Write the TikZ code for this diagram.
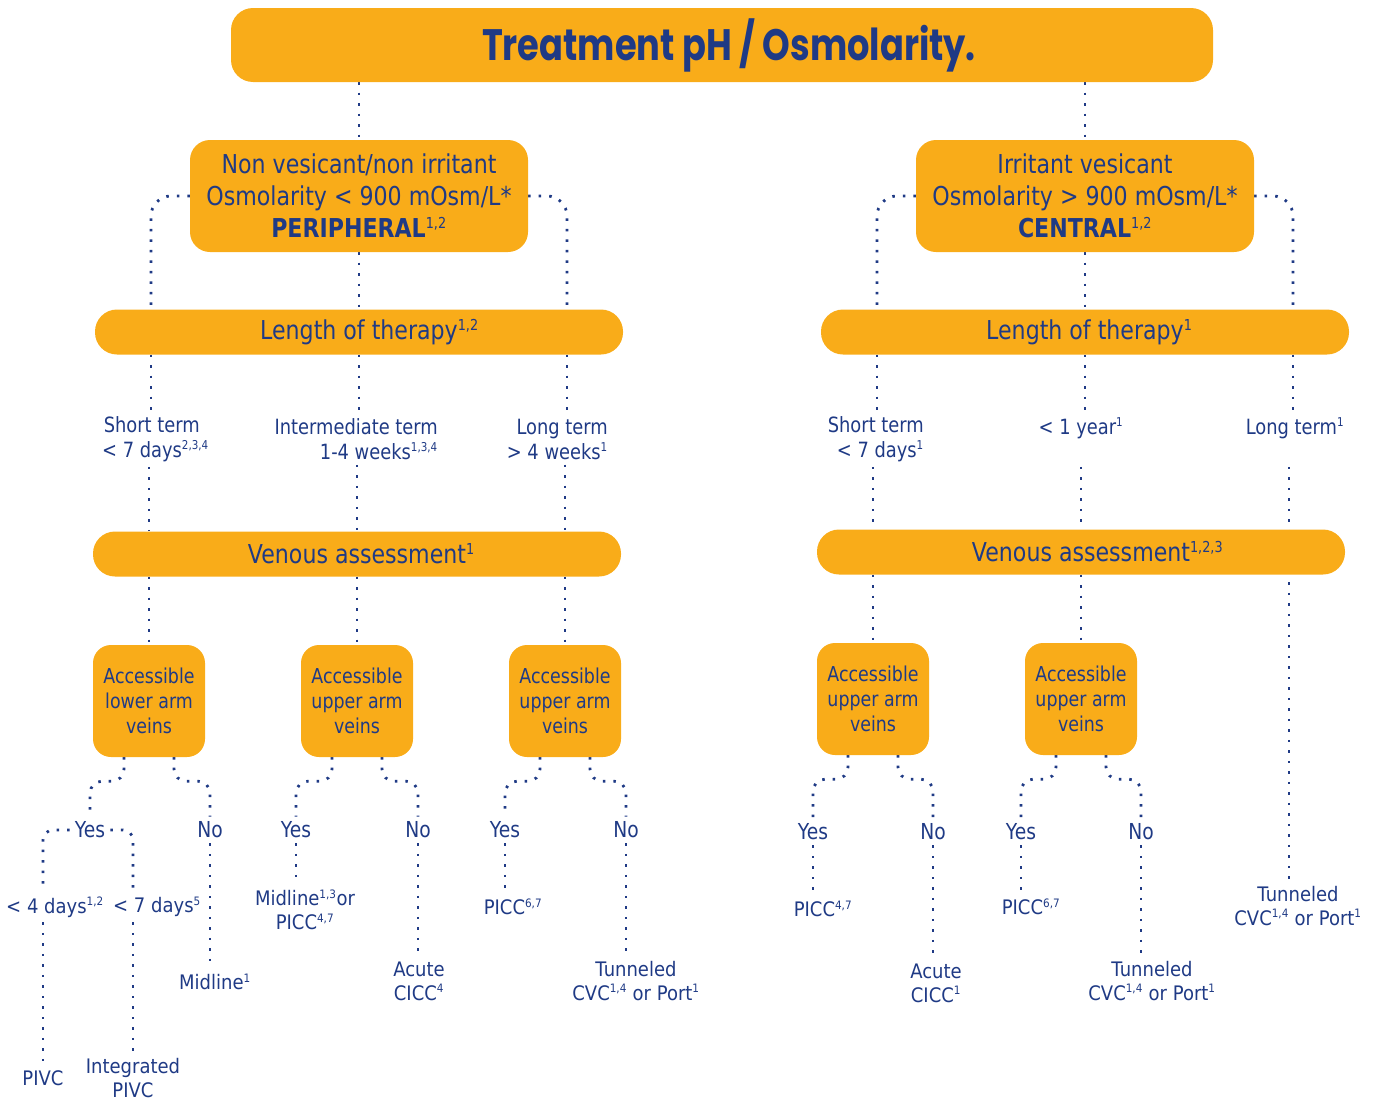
\documentclass[tikz,border=0pt]{standalone}
\usepackage{fontspec}
\setmainfont{DejaVu Sans}
\newfontfamily\condf[FakeStretch=0.85]{DejaVu Sans}
\newfontfamily\bodyf[FakeStretch=0.9]{DejaVu Sans}
\newfontfamily\titlef[FakeStretch=0.8]{Poppins}
\usetikzlibrary{calc}
\renewcommand\defaultscriptratio{.58}
\definecolor{orng}{HTML}{F9AC19}
\definecolor{navy}{HTML}{1F3A85}
\newcommand\sups[1]{\textsuperscript{\mdseries #1}}
\newcommand\hsup[1]{\rlap{\textsuperscript{\mdseries #1}}}
\pgfdeclarelayer{bg}\pgfsetlayers{bg,main}
\tikzset{
 box/.style={fill=orng, rounded corners=20pt, text=navy, align=center, inner sep=0pt},
 bar/.style={fill=orng, rounded corners=22pt, minimum width=528pt, minimum height=45pt, text=navy, font=\condf\fontsize{26}{30}\selectfont, inner sep=0pt},
 acc/.style={fill=orng, rounded corners=18pt, minimum width=112pt, minimum height=112pt, text=navy, align=center, font=\condf\fontsize{20.5}{25}\selectfont, inner sep=0pt},
 lbl/.style={text=navy, font=\condf\fontsize{21}{25}\selectfont, inner sep=5pt},
 blbl/.style={text=navy, font=\bodyf\fontsize{20}{24}\selectfont, inner sep=5pt, align=center},
 yn/.style={text=navy, font=\condf\fontsize{22}{24}\selectfont, inner sep=5pt},
 dotl/.style={draw=navy, line width=2.8pt, line cap=butt, dash pattern=on 2.5pt off 8pt},
}
\begin{document}
\begin{tikzpicture}[x=1pt,y=-1pt]
\useasboundingbox (0,0) rectangle (1378,1100);
% columns
\coordinate (u1) at (151,0); \coordinate (u2) at (359,0); \coordinate (u3) at (567,0);
\coordinate (u4) at (877,0); \coordinate (u5) at (1085,0); \coordinate (u6) at (1293,0);
\coordinate (l1) at (149,0); \coordinate (l2) at (357,0); \coordinate (l3) at (565,0);
\coordinate (l4) at (873,0); \coordinate (l5) at (1081,0); \coordinate (l6) at (1289,0);

% main boxes
\node[box, rounded corners=22pt, minimum width=982pt, minimum height=74pt] (title) at (722,45)
  {\titlef\bfseries\fontsize{44}{48}\selectfont\hspace*{14pt}Treatment pH / Osmolarity.};
\node[box, minimum width=338pt, minimum height=112pt, font=\condf\fontsize{26}{32}\selectfont] (nv) at (359,196)
  {Non vesicant/non irritant\\Osmolarity < 900 mOsm/L*\\\textbf{PERIPHERAL}\sups{1,2}};
\node[box, minimum width=338pt, minimum height=112pt, font=\condf\fontsize{26}{32}\selectfont] (ir) at (1085,196)
  {Irritant vesicant\\Osmolarity > 900 mOsm/L*\\\textbf{CENTRAL}\sups{1,2}};
\node[bar] (lenL) at (359,332) {Length of therapy\hsup{1,2}};
\node[bar] (lenR) at (1085,332) {Length of therapy\hsup{1}};

% term labels
\node[lbl, align=right, anchor=east] (stL) at (214,439) {Short term\hspace*{9pt}\\< 7 days\sups{2,3,4}};
\node[lbl, align=right, anchor=east] (imL) at (443,439) {Intermediate term\\1-4 weeks\sups{1,3,4}};
\node[lbl, align=right, anchor=east] (ltL) at (613,439) {Long term\\> 4 weeks\sups{1}};
\node[lbl, align=right, anchor=east] (stR) at (929,439) {Short term\\< 7 days\sups{1}};
\node[lbl] (yrR) at (1081,428) {< 1 year\sups{1}};
\node[lbl] (ltR) at (1295,428) {Long term\sups{1}};

\node[bar] (venL) at (357,554) {Venous assessment\hsup{1}};
\node[bar] (venR) at (1081,552) {Venous assessment\hsup{1,2,3}};

% accessible boxes
\node[acc] (a1) at (149,701) {Accessible\\lower arm\\veins};
\node[acc] (a2) at (357,701) {Accessible\\upper arm\\veins};
\node[acc] (a3) at (565,701) {Accessible\\upper arm\\veins};
\node[acc] (a4) at (873,699) {Accessible\\upper arm\\veins};
\node[acc] (a5) at (1081,699) {Accessible\\upper arm\\veins};

% bottom labels
\node[yn] (yes1) at (90,830) {Yes};
\node[yn] (no1) at (210,830) {No};
\node[blbl] (d4) at (55,907) {< 4 days\sups{1,2}};
\node[blbl] (d7) at (157,907) {< 7 days\sups{5}};
\node[blbl] (pivc) at (43,1078) {PIVC};
\node[blbl] (ipivc) at (133,1078) {Integrated\\PIVC};
\node[blbl] (mid1) at (215,982) {Midline\sups{1}};
\node[yn] (yes2) at (296,830) {Yes};
\node[yn] (no2) at (418,830) {No};
\node[blbl] (mp) at (305,910) {Midline\sups{1,3}or\\PICC\sups{4,7}};
\node[blbl] (ac2) at (419,981) {Acute\\CICC\sups{4}};
\node[yn] (yes3) at (505,830) {Yes};
\node[yn] (no3) at (626,830) {No};
\node[blbl] (pc3) at (513,907) {PICC\sups{6,7}};
\node[blbl] (tn3) at (636,981) {Tunneled\\CVC\sups{1,4} or Port\sups{1}};
\node[yn] (yes4) at (813,832) {Yes};
\node[yn] (no4) at (933,832) {No};
\node[blbl] (pc4) at (823,909) {PICC\sups{4,7}};
\node[blbl] (ac4) at (936,983) {Acute\\CICC\sups{1}};
\node[yn] (yes5) at (1021,832) {Yes};
\node[yn] (no5) at (1141,832) {No};
\node[blbl] (pc5) at (1031,907) {PICC\sups{6,7}};
\node[blbl] (tn5) at (1152,981) {Tunneled\\CVC\sups{1,4} or Port\sups{1}};
\node[blbl] (tcR) at (1298,906) {Tunneled\\CVC\sups{1,4} or Port\sups{1}};

\begin{pgfonlayer}{bg}
\draw[dotl] (nv.north |- title.south) -- (nv.north);
\draw[dotl] (ir.north |- title.south) -- (ir.north);
\draw[dotl] (nv.south) -- (lenL.north);
\draw[dotl] (ir.south) -- (lenR.north);
\draw[dotl, rounded corners=20pt] (nv.west) -| (lenL.north -| u1);
\draw[dotl, rounded corners=20pt] (nv.east) -| (lenL.north -| u3);
\draw[dotl, rounded corners=20pt] (ir.west) -| (lenR.north -| u4);
\draw[dotl, rounded corners=20pt] (ir.east) -| (lenR.north -| u6);
% length -> terms
\draw[dotl] (lenL.south -| u1) -- (stL.north -| u1);
\draw[dotl] (lenL.south -| u2) -- (imL.north -| u2);
\draw[dotl] (lenL.south -| u3) -- (ltL.north -| u3);
\draw[dotl] (lenR.south -| u4) -- (stR.north -| u4);
\draw[dotl] (lenR.south -| u5) -- (yrR.north -| u5);
\draw[dotl] (lenR.south -| u6) -- (ltR.north -| u6);
% terms -> venous
\draw[dotl] (stL.south -| l1) -- (venL.north -| l1);
\draw[dotl] (imL.south -| l2) -- (venL.north -| l2);
\draw[dotl] (ltL.south -| l3) -- (venL.north -| l3);
\draw[dotl] (stR.south -| l4) -- (venR.north -| l4);
\draw[dotl] (stR.south -| l5) -- (venR.north -| l5);
\draw[dotl] (stR.south -| l6) -- (tcR.north -| l6);
% venous -> boxes
\draw[dotl] (a1.north |- venL.south) -- (a1.north);
\draw[dotl] (a2.north |- venL.south) -- (a2.north);
\draw[dotl] (a3.north |- venL.south) -- (a3.north);
\draw[dotl] (a4.north |- venR.south) -- (a4.north);
\draw[dotl] (a5.north |- venR.south) -- (a5.north);
% boxes -> yes/no
\foreach \b/\y/\n in {a1/yes1/no1, a2/yes2/no2, a3/yes3/no3, a4/yes4/no4, a5/yes5/no5}{
  \draw[dotl, rounded corners=12pt] ($(\b.south)+(-25,0)$) -- ++(0,24) -| (\y.north);
  \draw[dotl, rounded corners=12pt] ($(\b.south)+(25,0)$) -- ++(0,24) -| (\n.north);
}
% first tree
\draw[dotl, rounded corners=10pt] (yes1.west) -| (d4.north -| pivc);
\draw[dotl, rounded corners=10pt] (yes1.east) -| (d7.north -| ipivc);
\draw[dotl] (d4.south -| pivc) -- (pivc.north);
\draw[dotl] (d7.south -| ipivc) -- (ipivc.north);
\draw[dotl] (no1.south) -- (mid1.north -| no1.south);
% others
\draw[dotl] (yes2.south) -- (mp.north -| yes2.south);
\draw[dotl] (no2.south) -- (ac2.north -| no2.south);
\draw[dotl] (yes3.south) -- (pc3.north -| yes3.south);
\draw[dotl] (no3.south) -- (tn3.north -| no3.south);
\draw[dotl] (yes4.south) -- (pc4.north -| yes4.south);
\draw[dotl] (no4.south) -- (ac4.north -| no4.south);
\draw[dotl] (yes5.south) -- (pc5.north -| yes5.south);
\draw[dotl] (no5.south) -- (tn5.north -| no5.south);
\end{pgfonlayer}
\end{tikzpicture}
\end{document}
